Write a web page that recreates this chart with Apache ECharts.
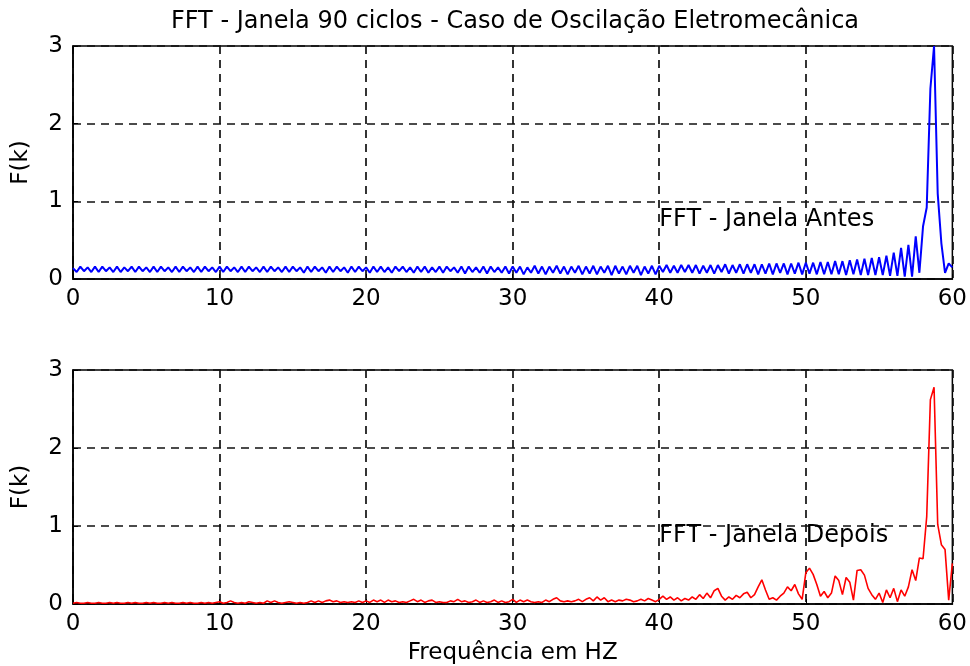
<!DOCTYPE html>
<html>
<head>
<meta charset="utf-8">
<script src="https://cdn.jsdelivr.net/npm/echarts@6/dist/echarts.min.js"></script>
<style>
html,body{margin:0;padding:0;background:#fff;}
#chart{width:970px;height:666px;}
</style>
</head>
<body>
<div id="chart"></div>
<script>
var chartTitle = 'FFT - Janela 90 ciclos - Caso de Oscilação Eletromecânica';
var xAxisName = 'Frequência em HZ';
var yAxisName = 'F(k)';
var labelAntes = 'FFT - Janela Antes';
var labelDepois = 'FFT - Janela Depois';
var xTicks = [0, 10, 20, 30, 40, 50, 60];
var yTicks = [0, 1, 2, 3];

// frequency bins (Hz)
var freq = [
0,0.25,0.5,0.75, 1,1.25,1.5,1.75, 2,2.25,2.5,2.75, 3,3.25,3.5,3.75, 4,4.25,4.5,4.75,
5,5.25,5.5,5.75, 6,6.25,6.5,6.75, 7,7.25,7.5,7.75, 8,8.25,8.5,8.75, 9,9.25,9.5,9.75,
10,10.25,10.5,10.75, 11,11.25,11.5,11.75, 12,12.25,12.5,12.75, 13,13.25,13.5,13.75, 14,14.25,14.5,14.75,
15,15.25,15.5,15.75, 16,16.25,16.5,16.75, 17,17.25,17.5,17.75, 18,18.25,18.5,18.75, 19,19.25,19.5,19.75,
20,20.25,20.5,20.75, 21,21.25,21.5,21.75, 22,22.25,22.5,22.75, 23,23.25,23.5,23.75, 24,24.25,24.5,24.75,
25,25.25,25.5,25.75, 26,26.25,26.5,26.75, 27,27.25,27.5,27.75, 28,28.25,28.5,28.75, 29,29.25,29.5,29.75,
30,30.25,30.5,30.75, 31,31.25,31.5,31.75, 32,32.25,32.5,32.75, 33,33.25,33.5,33.75, 34,34.25,34.5,34.75,
35,35.25,35.5,35.75, 36,36.25,36.5,36.75, 37,37.25,37.5,37.75, 38,38.25,38.5,38.75, 39,39.25,39.5,39.75,
40,40.25,40.5,40.75, 41,41.25,41.5,41.75, 42,42.25,42.5,42.75, 43,43.25,43.5,43.75, 44,44.25,44.5,44.75,
45,45.25,45.5,45.75, 46,46.25,46.5,46.75, 47,47.25,47.5,47.75, 48,48.25,48.5,48.75, 49,49.25,49.5,49.75,
50,50.25,50.5,50.75, 51,51.25,51.5,51.75, 52,52.25,52.5,52.75, 53,53.25,53.5,53.75, 54,54.25,54.5,54.75,
55,55.25,55.5,55.75, 56,56.25,56.5,56.75, 57,57.25,57.5,57.75, 58,58.25,58.5,58.75, 59,59.25,59.5,59.75,
60
];

// FFT magnitude - window before (blue)
var fftAntes = [
0.14,0.09,0.16,0.10, 0.15,0.09,0.16,0.09, 0.16,0.10,0.15,0.09, 0.16,0.09,0.15,0.10, 0.16,0.09,0.16,0.10,
0.15,0.09,0.16,0.09, 0.16,0.10,0.15,0.09, 0.16,0.09,0.16,0.10, 0.15,0.09,0.16,0.09, 0.16,0.10,0.15,0.09,
0.16,0.09,0.16,0.10, 0.15,0.09,0.16,0.09, 0.16,0.10,0.15,0.09, 0.16,0.09,0.16,0.10, 0.15,0.09,0.16,0.09,
0.16,0.10,0.15,0.08, 0.16,0.09,0.16,0.10, 0.15,0.08,0.16,0.09, 0.16,0.10,0.15,0.08, 0.16,0.09,0.16,0.10,
0.15,0.08,0.16,0.09, 0.16,0.09,0.15,0.08, 0.16,0.10,0.16,0.09, 0.15,0.08,0.16,0.09, 0.16,0.08,0.15,0.09,
0.16,0.08,0.16,0.10, 0.15,0.08,0.16,0.07, 0.16,0.09,0.15,0.08, 0.16,0.07,0.16,0.09, 0.15,0.08,0.16,0.07,
0.16,0.08,0.16,0.06, 0.15,0.08,0.17,0.07, 0.16,0.06,0.16,0.08, 0.17,0.07,0.16,0.06, 0.16,0.08,0.17,0.06,
0.16,0.07,0.17,0.06, 0.16,0.08,0.17,0.05, 0.17,0.07,0.16,0.06, 0.17,0.08,0.17,0.05, 0.16,0.07,0.17,0.06,
0.17,0.09,0.18,0.08, 0.17,0.08,0.18,0.09, 0.18,0.08,0.18,0.07, 0.17,0.08,0.18,0.07, 0.18,0.09,0.19,0.07,
0.18,0.08,0.19,0.07, 0.19,0.08,0.19,0.06, 0.19,0.07,0.20,0.06, 0.20,0.08,0.20,0.06, 0.20,0.07,0.21,0.06,
0.21,0.07,0.21,0.06, 0.22,0.06,0.22,0.06, 0.23,0.06,0.23,0.05, 0.24,0.06,0.25,0.05, 0.26,0.05,0.27,0.05,
0.28,0.05,0.30,0.04, 0.34,0.04,0.40,0.03, 0.44,0.03,0.55,0.08, 0.68,0.92,2.45,3.00, 1.10,0.46,0.08,0.20,
0.15
];

// FFT magnitude - window after (red)
var fftDepois = [
0.01,0.02,0.01,0.01, 0.02,0.01,0.01,0.02, 0.01,0.01,0.02,0.01, 0.02,0.01,0.01,0.02, 0.01,0.02,0.01,0.01,
0.02,0.01,0.02,0.01, 0.01,0.02,0.01,0.02, 0.01,0.01,0.02,0.01, 0.02,0.01,0.01,0.02, 0.01,0.02,0.01,0.02,
0.03,0.01,0.02,0.04, 0.02,0.01,0.02,0.01, 0.03,0.02,0.01,0.02, 0.01,0.04,0.02,0.04, 0.02,0.01,0.02,0.03,
0.02,0.01,0.02,0.01, 0.02,0.04,0.02,0.04, 0.02,0.04,0.05,0.03, 0.04,0.02,0.03,0.02, 0.03,0.02,0.04,0.02,
0.04,0.02,0.05,0.03, 0.05,0.02,0.05,0.03, 0.04,0.02,0.03,0.02, 0.04,0.06,0.03,0.05, 0.02,0.04,0.05,0.02,
0.03,0.02,0.02,0.04, 0.03,0.06,0.03,0.04, 0.02,0.03,0.05,0.02, 0.04,0.02,0.03,0.05, 0.02,0.04,0.02,0.03,
0.06,0.02,0.05,0.03, 0.05,0.03,0.02,0.03, 0.02,0.05,0.03,0.06, 0.08,0.04,0.03,0.04, 0.03,0.04,0.06,0.03,
0.06,0.08,0.04,0.09, 0.05,0.08,0.03,0.05, 0.03,0.05,0.04,0.06, 0.05,0.03,0.04,0.06, 0.04,0.07,0.05,0.03,
0.06,0.10,0.06,0.09, 0.05,0.08,0.04,0.07, 0.05,0.09,0.06,0.12, 0.07,0.14,0.08,0.17, 0.20,0.10,0.05,0.09,
0.06,0.11,0.08,0.13, 0.15,0.08,0.12,0.22, 0.31,0.18,0.06,0.08, 0.05,0.10,0.14,0.22, 0.17,0.25,0.13,0.06,
0.40,0.46,0.38,0.25, 0.10,0.16,0.08,0.14, 0.36,0.30,0.12,0.34, 0.28,0.05,0.43,0.44, 0.37,0.20,0.12,0.06,
0.14,0.02,0.18,0.08, 0.20,0.03,0.18,0.10, 0.22,0.44,0.30,0.59, 0.58,1.12,2.62,2.78, 1.02,0.76,0.70,0.05,
0.52
];

function pairs(xs, ys) {
  var out = [];
  for (var i = 0; i < xs.length; i++) out.push([xs[i], ys[i]]);
  return out;
}

var FONT = 'DejaVu Sans';
var FS = 23;
var gridLine = { show: true, lineStyle: { color: '#111', type: [8, 6], width: 1.7 } };

function xAx(gi, withName) {
  var a = {
    type: 'value', gridIndex: gi, min: xTicks[0], max: xTicks[xTicks.length - 1], interval: 10,
    axisLine: { show: true, onZero: false, lineStyle: { color: '#000', width: 1.5 } },
    axisTick: { show: true, inside: true, length: 5, lineStyle: { color: '#000' } },
    axisLabel: { color: '#000', fontFamily: FONT, fontSize: FS, margin: 9 },
    splitLine: gridLine
  };
  if (withName) {
    a.name = xAxisName;
    a.nameLocation = 'middle';
    a.nameGap = 38;
    a.nameTextStyle = { color: '#000', fontFamily: FONT, fontSize: FS };
  }
  return a;
}
function yAx(gi) {
  return {
    type: 'value', gridIndex: gi, min: yTicks[0], max: yTicks[yTicks.length - 1], interval: 1,
    name: yAxisName, nameLocation: 'middle', nameGap: 40, nameRotate: 90,
    nameTextStyle: { color: '#000', fontFamily: FONT, fontSize: FS },
    axisLine: { show: true, lineStyle: { color: '#000', width: 1.5 } },
    axisTick: { show: true, inside: true, length: 5, lineStyle: { color: '#000' } },
    axisLabel: { color: '#000', fontFamily: FONT, fontSize: FS, margin: 10 },
    splitLine: gridLine
  };
}

var chart = echarts.init(document.getElementById('chart'), null, { renderer: 'canvas' });
chart.setOption({
  animation: false,
  backgroundColor: '#fff',
  title: {
    text: chartTitle, left: 510, top: 5, textAlign: 'center',
    textStyle: { color: '#000', fontFamily: FONT, fontSize: 24, fontWeight: 'normal' }
  },
  grid: [
    { left: 73, top: 46, width: 884, height: 233, show: true, borderColor: '#000', borderWidth: 1.5, backgroundColor: '#fff' },
    { left: 73, top: 370, width: 884, height: 234, show: true, borderColor: '#000', borderWidth: 1.5, backgroundColor: '#fff' }
  ],
  xAxis: [xAx(0, false), xAx(1, true)],
  yAxis: [yAx(0), yAx(1)],
  series: [
    {
      type: 'line', xAxisIndex: 0, yAxisIndex: 0, data: pairs(freq, fftAntes),
      showSymbol: false, symbol: 'none', lineStyle: { color: '#0000ff', width: 2 }, z: 5
    },
    {
      type: 'line', xAxisIndex: 1, yAxisIndex: 1, data: pairs(freq, fftDepois),
      showSymbol: false, symbol: 'none', lineStyle: { color: '#ff0000', width: 1.6 }, z: 5
    },
    {
      type: 'scatter', xAxisIndex: 0, yAxisIndex: 0, data: [[40, 0.76]], symbolSize: 0.1,
      itemStyle: { opacity: 1, color: 'rgba(0,0,0,0)' },
      label: { show: true, position: 'right', distance: 0, formatter: labelAntes, color: '#000', opacity: 1, fontFamily: FONT, fontSize: 24 },
      z: 6
    },
    {
      type: 'scatter', xAxisIndex: 1, yAxisIndex: 1, data: [[40, 0.88]], symbolSize: 0.1,
      itemStyle: { opacity: 1, color: 'rgba(0,0,0,0)' },
      label: { show: true, position: 'right', distance: 0, formatter: labelDepois, color: '#000', opacity: 1, fontFamily: FONT, fontSize: 24 },
      z: 6
    }
  ]
});
</script>
</body>
</html>
